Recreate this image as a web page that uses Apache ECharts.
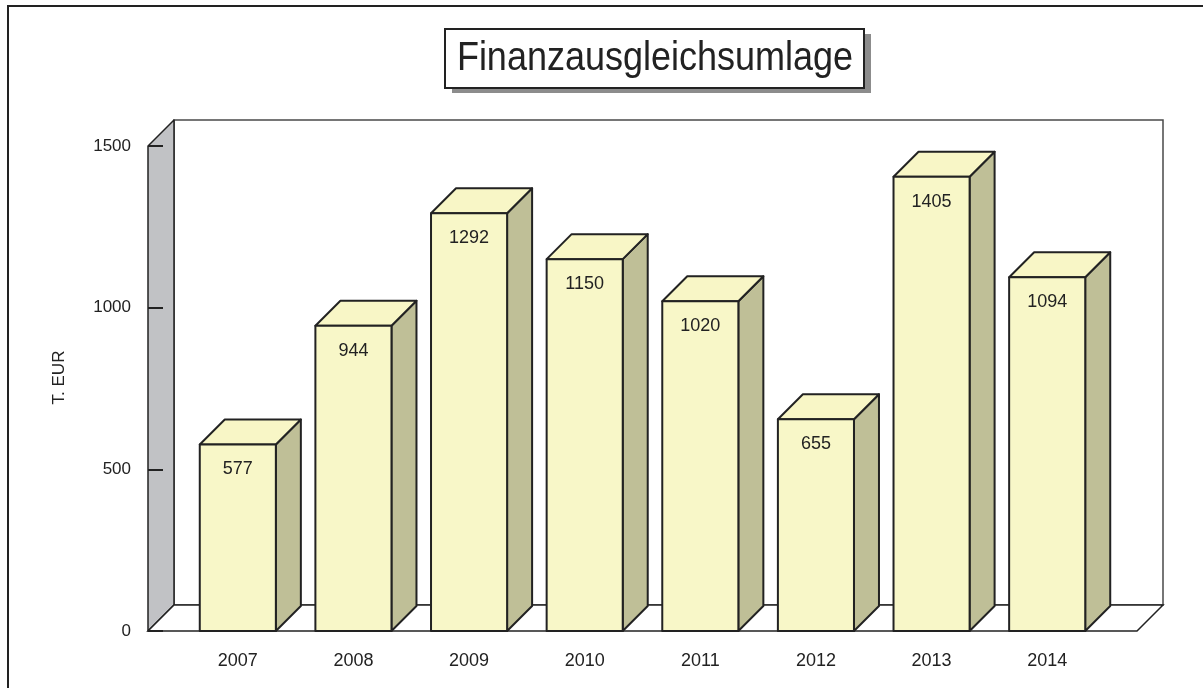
<!DOCTYPE html>
<html>
<head>
<meta charset="utf-8">
<script src="https://cdn.jsdelivr.net/npm/echarts@6/dist/echarts.min.js"></script>
<style>
  html, body { margin: 0; padding: 0; background: #fff; }
  #frame { position: absolute; left: 7px; top: 5px; right: 0; bottom: 0; border-left: 2px solid #222; border-top: 2px solid #222; }
  #chart { position: absolute; left: 0; top: 0; width: 1203px; height: 688px; }
</style>
</head>
<body>
<div id="frame"></div>
<div id="chart"></div>
<script>
const years = ['2007', '2008', '2009', '2010', '2011', '2012', '2013', '2014']
const values = [577, 944, 1292, 1150, 1020, 655, 1405, 1094]
const yTicks = [0, 500, 1000, 1500]
const titleText = 'Finanzausgleichsumlage'

const FONT = 'Liberation Sans, Arial, Helvetica, sans-serif'
const DEPTH = 26       // wall depth in px
const BAR_DEPTH = 25   // bar depth in px
const WALL_EXT = 32    // how far the walls reach past the outer bands

const chart = echarts.init(document.getElementById('chart'))

// walls + floor, drawn around the grid rect
const renderFrame = (params, api) => {
  const cs = params.coordSys
  const fl = cs.x - WALL_EXT, fr = cs.x + cs.width + WALL_EXT
  const ft = cs.y, fb = cs.y + cs.height
  const d = DEPTH
  return {
    type: 'group',
    children: [
      { type: 'rect', shape: { x: fl + d, y: ft - d, width: fr - fl, height: fb - ft },
        style: { fill: '#fff', stroke: '#4a4a4a', lineWidth: 1.5 } },
      { type: 'polygon', shape: { points: [[fl, fb], [fl, ft], [fl + d, ft - d], [fl + d, fb - d]] },
        style: { fill: '#c1c2c5', stroke: '#222', lineWidth: 1.5, lineJoin: 'round' } },
      { type: 'polygon', shape: { points: [[fl, fb], [fr, fb], [fr + d, fb - d], [fl + d, fb - d]] },
        style: { fill: '#fff', stroke: '#222', lineWidth: 1.5 } },
    ],
  }
}

const renderBar = (params, api) => {
  const top = api.coord([api.value(0), api.value(1)])
  const base = api.coord([api.value(0), 0])
  const w = api.size([1, 0])[0] * 0.658
  const l = top[0] - w / 2, r = top[0] + w / 2
  const t = top[1], b = base[1], d = BAR_DEPTH
  const stroke = { stroke: '#222', lineWidth: 2, lineJoin: 'round' }
  return {
    type: 'group',
    children: [
      { type: 'polygon', shape: { points: [[r, t], [r + d, t - d], [r + d, b - d], [r, b]] },
        style: { fill: '#bfbf97', ...stroke } },
      { type: 'polygon', shape: { points: [[l, t], [r, t], [r + d, t - d], [l + d, t - d]] },
        style: { fill: '#f8f6c6', ...stroke } },
      { type: 'rect', shape: { x: l, y: t, width: w, height: b - t },
        style: { fill: '#f8f7c8', ...stroke } },
      { type: 'text', x: top[0], y: t + 25,
        style: { text: String(api.value(1)), fill: '#222', font: `18px ${FONT}`, align: 'center', verticalAlign: 'middle' } },
    ],
  }
}

chart.setOption({
  animation: false,
  backgroundColor: 'transparent',
  // boxed title with a hard drop shadow; text squeezed a little to fit the box
  graphic: [
    { type: 'rect', left: 452, top: 34, shape: { width: 419, height: 59 }, style: { fill: '#8c8c8c' }, silent: true },
    { type: 'rect', left: 444, top: 28, shape: { width: 419, height: 59 }, style: { fill: '#fff', stroke: '#222', lineWidth: 2 }, silent: true },
    { type: 'text', x: 655, y: 59, scaleX: 0.9, silent: true,
      style: { text: titleText, font: `40px ${FONT}`, fill: '#222', align: 'center', verticalAlign: 'middle' } },
  ],
  grid: { left: 180, right: 98, top: 146, bottom: 57 },
  xAxis: {
    type: 'category', data: years,
    axisLine: { show: false }, axisTick: { show: false },
    axisLabel: { color: '#222', fontSize: 18, fontFamily: FONT, margin: 21 },
    splitLine: { show: false },
  },
  yAxis: {
    type: 'value', min: 0, max: 1500, interval: 500, offset: WALL_EXT, z: 5,
    name: 'T. EUR', nameLocation: 'middle', nameRotate: 90, nameGap: 80,
    nameTextStyle: { color: '#222', fontSize: 17, fontFamily: FONT, padding: [0, 0, 0, 22] },
    axisLine: { show: false },
    axisTick: { show: true, inside: true, length: 15, lineStyle: { color: '#222', width: 2 } },
    axisLabel: { color: '#222', fontSize: 17, fontFamily: FONT, margin: 17,
      formatter: (v) => yTicks.includes(v) ? String(v) : '' },
    splitLine: { show: false },
  },
  series: [
    { type: 'custom', z: 1, silent: true, renderItem: renderFrame, data: [[0, 0]] },
    { type: 'custom', z: 2, renderItem: renderBar, data: years.map((y, i) => [i, values[i]]) },
  ],
})
</script>
</body>
</html>
